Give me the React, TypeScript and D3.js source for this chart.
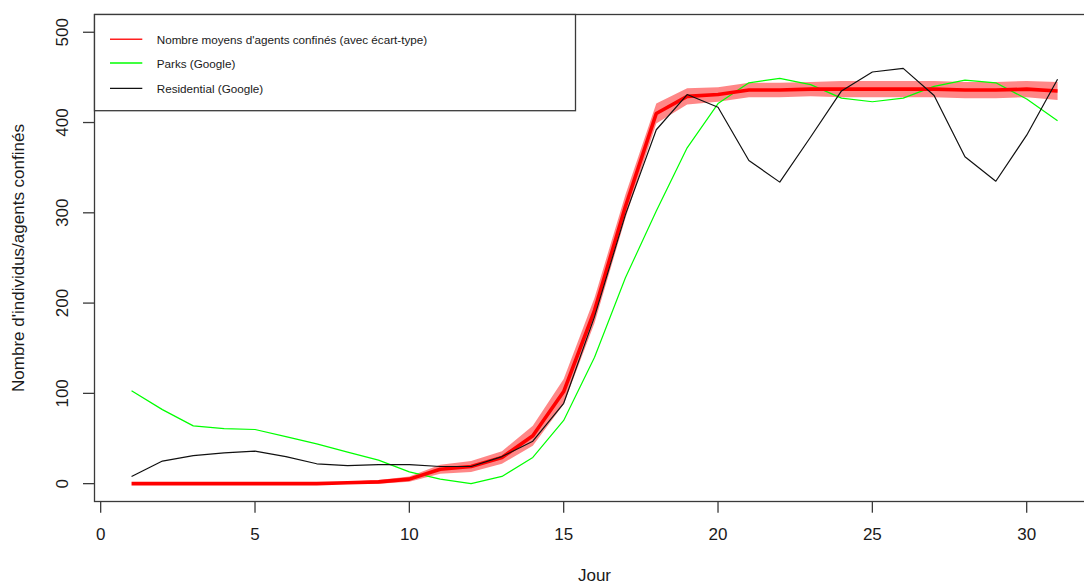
import React from "react";
import * as d3 from "d3";

// Days of observation
const days: number[] = d3.range(1, 32);

// Mean number of confined agents per day, and its standard deviation
const meanConfined: number[] = [
  0, 0, 0, 0, 0, 0, 0, 1, 2, 5, 16, 19, 29, 53, 102, 192, 307, 410, 429, 431,
  436, 436, 437, 437, 437, 437, 437, 436, 436, 437, 435,
];
const sdConfined: number[] = [
  0, 0, 0, 0, 0, 0, 0.5, 1, 2, 3, 5, 6, 7, 11, 14, 14, 13, 11, 9, 8, 8, 8, 8, 9,
  9, 9, 9, 9, 9, 9, 10,
];

// Google mobility indices rescaled to the agent population
const parksGoogle: number[] = [
  103, 82, 64, 61, 60, 52, 44, 35, 26, 13, 5, 0, 8, 29, 70, 140, 228, 302, 372,
  421, 444, 449, 442, 427, 423, 427, 440, 447, 444, 426, 402,
];
const residentialGoogle: number[] = [
  8, 25, 31, 34, 36, 30, 22, 20, 21, 21, 19, 19, 30, 47, 89, 185, 298, 392, 431,
  417, 358, 334, 384, 435, 456, 460, 430, 362, 335, 386, 448,
];

const xTicks: number[] = [0, 5, 10, 15, 20, 25, 30];
const yTicks: number[] = [0, 100, 200, 300, 400, 500];

const legendItems = [
  { label: "Nombre moyens d'agents confinés (avec écart-type)", color: "#ff2020", width: 1.6 },
  { label: "Parks (Google)", color: "#00ff00", width: 1.3 },
  { label: "Residential (Google)", color: "#111111", width: 1.3 },
];

const W = 1084;
const H = 586;
const FONT = "'Liberation Sans', Arial, sans-serif";
const INK = "#1a1a1a";
const AXIS = "#3a3a3a";

export default function App() {
  // Plot region: data range padded by 4% on each side
  const x = d3.scaleLinear().domain([-0.2, 32.2]).range([94.5, 1094.6]);
  const y = d3.scaleLinear().domain([-20, 520]).range([501.7, 14.2]);

  const left = 94.5;
  const top = 14.5;
  const bottom = 501.5;
  const right = 1094.5;

  const line = d3
    .line<number>()
    .x((_, i) => x(days[i]))
    .y((v) => y(v));

  const band = d3
    .area<number>()
    .x((_, i) => x(days[i]))
    .y0((v, i) => y(v - sdConfined[i]))
    .y1((v, i) => y(v + sdConfined[i]));

  const legendRows = [39.3, 63, 88.3];

  return (
    <svg
      width={W}
      height={H}
      viewBox={`0 0 ${W} ${H}`}
      style={{ position: "absolute", left: 0, top: 0, background: "#fff" }}
    >
      <defs>
        <clipPath id="plot-area">
          <rect x={left} y={top} width={right - left} height={bottom - top} />
        </clipPath>
      </defs>
      <rect x={0} y={0} width={W} height={H} fill="#fff" />

      <g clipPath="url(#plot-area)">
        {/* standard deviation band */}
        <path d={band(meanConfined) ?? ""} fill="rgba(255,0,0,0.47)" stroke="none" />
        <path
          d={line(parksGoogle) ?? ""}
          fill="none"
          stroke="#00ff00"
          strokeWidth={1.2}
          strokeLinejoin="round"
        />
        <path
          d={line(meanConfined) ?? ""}
          fill="none"
          stroke="#ff0000"
          strokeWidth={3.6}
          strokeLinejoin="round"
        />
        <path
          d={line(residentialGoogle) ?? ""}
          fill="none"
          stroke="#111"
          strokeWidth={1.2}
          strokeLinejoin="round"
        />
      </g>

      {/* plot frame */}
      <rect
        x={left}
        y={top}
        width={right - left}
        height={bottom - top}
        fill="none"
        stroke={AXIS}
        strokeWidth={1.3}
      />

      {/* y axis */}
      {yTicks.map((t) => (
        <g key={`y${t}`}>
          <line x1={83} x2={left} y1={y(t)} y2={y(t)} stroke={AXIS} strokeWidth={1.3} />
          <text
            transform={`translate(62,${y(t)}) rotate(-90)`}
            textAnchor="middle"
            dominantBaseline="central"
            fontFamily={FONT}
            fontSize={17}
            fill={INK}
          >
            {t}
          </text>
        </g>
      ))}

      {/* x axis */}
      {xTicks.map((t) => (
        <g key={`x${t}`}>
          <line x1={x(t)} x2={x(t)} y1={bottom} y2={512.7} stroke={AXIS} strokeWidth={1.3} />
          <text
            x={x(t)}
            y={540}
            textAnchor="middle"
            fontFamily={FONT}
            fontSize={17}
            fill={INK}
          >
            {t}
          </text>
        </g>
      ))}

      {/* axis titles */}
      <text
        x={(left + right) / 2}
        y={581}
        textAnchor="middle"
        fontFamily={FONT}
        fontSize={17}
        fill={INK}
      >
        Jour
      </text>
      <text
        transform={`translate(24,${(top + bottom) / 2}) rotate(-90)`}
        textAnchor="middle"
        fontFamily={FONT}
        fontSize={17}
        fill={INK}
      >
        Nombre d'individus/agents confinés
      </text>

      {/* legend */}
      <rect
        x={left}
        y={top}
        width={575.5 - left}
        height={110.7 - top}
        fill="#fff"
        stroke={AXIS}
        strokeWidth={1.3}
      />
      {legendItems.map((item, i) => (
        <g key={item.label}>
          <line
            x1={110}
            x2={142.3}
            y1={legendRows[i]}
            y2={legendRows[i]}
            stroke={item.color}
            strokeWidth={item.width}
          />
          <text
            x={156.7}
            y={legendRows[i]}
            dominantBaseline="central"
            fontFamily={FONT}
            fontSize={11.7}
            fill={INK}
          >
            {item.label}
          </text>
        </g>
      ))}
    </svg>
  );
}
